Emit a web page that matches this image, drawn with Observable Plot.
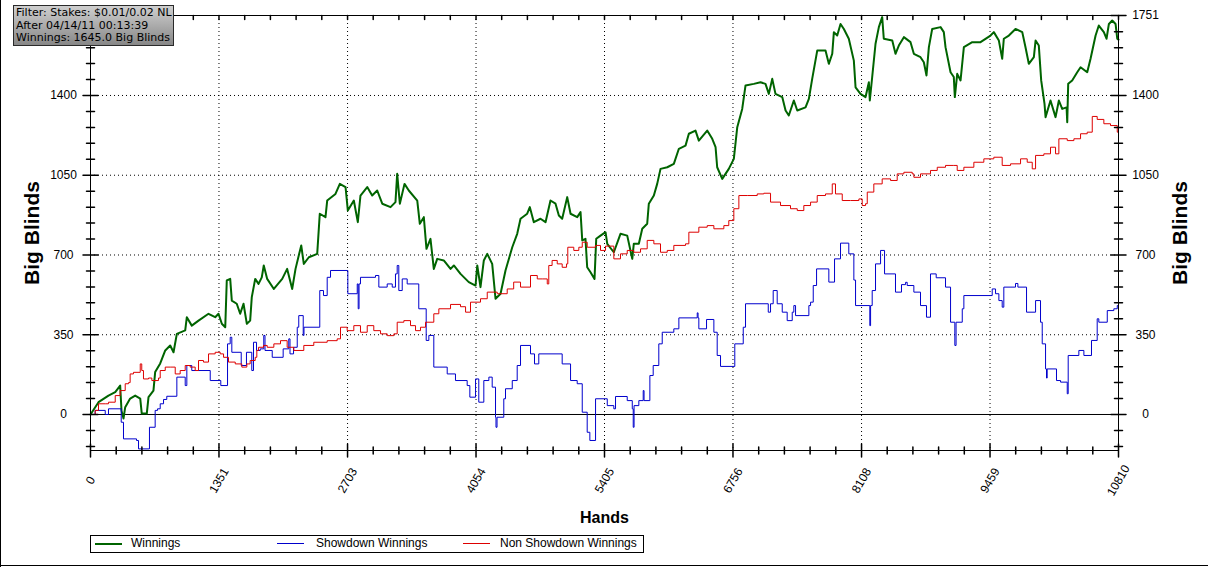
<!DOCTYPE html>
<html>
<head>
<meta charset="utf-8">
<script src="https://cdn.jsdelivr.net/npm/d3@7"></script>
<script src="https://cdn.jsdelivr.net/npm/@observablehq/plot@0.6"></script>
<style>
  html, body { margin: 0; padding: 0; background: #fff; }
  #chart { position: relative; width: 1208px; height: 567px; overflow: hidden; background: #fff; font-family: "Liberation Sans", Arial, sans-serif; }
  #chart svg { position: absolute; left: 0; top: 0; }
  .edge-left { position: absolute; left: 0; top: 0; width: 1px; height: 567px; background: #000; }
  .edge-bottom { position: absolute; left: 0; top: 565px; width: 1208px; height: 1px; background: #000; }
  #filter { position: absolute; left: 13px; top: 5px; width: 161px; height: 41px; box-sizing: border-box; border: 1px solid #2a2a2a;
            background: linear-gradient(#cfcfcf, #878787); font-family: "DejaVu Sans", sans-serif; font-size: 11px; line-height: 12.5px;
            padding: 1px 0 0 2px; color: #000; white-space: nowrap; }
  #legend { position: absolute; left: 90px; top: 535px; width: 554px; height: 18px; box-sizing: border-box; border: 1px solid #000; background: #fff; }
  .lg-line { position: absolute; }
  .lg-text { position: absolute; top: 536px; line-height: 15px; font-size: 12px; color: #000; white-space: nowrap; }
</style>
</head>
<body>
<div id="chart">
  <div class="edge-left"></div>
  <div class="edge-bottom"></div>
</div>
<script>
// ---------- data (hands, big blinds) ----------
const winnings = [[0,0],[84,54],[189,83],[260,98],[312,127],[326,17],[347,-18],[365,32],[417,70],[470,83],[523,70],[539,4],[592,4],[610,76],[662,105],[680,186],[733,224],[786,281],[838,303],[873,273],[908,354],[996,369],[1013,427],[1065,390],[1136,412],[1241,442],[1311,427],[1346,442],[1381,398],[1417,383],[1433,588],[1469,595],[1486,500],[1538,486],[1574,442],[1609,486],[1644,398],[1679,412],[1696,515],[1732,595],[1767,573],[1801,602],[1822,654],[1858,595],[1928,551],[2016,595],[2068,639],[2121,551],[2156,639],[2190,698],[2216,742],[2243,661],[2296,690],[2384,705],[2411,881],[2471,866],[2489,939],[2576,968],[2622,1012],[2682,998],[2706,895],[2769,939],[2811,844],[2839,961],[2910,998],[2962,961],[3015,983],[3068,925],[3155,910],[3207,932],[3225,1056],[3253,925],[3302,1012],[3347,983],[3436,939],[3463,837],[3505,866],[3533,727],[3575,771],[3610,639],[3646,683],[3715,676],[3786,639],[3821,654],[3891,617],[3978,581],[4049,566],[4067,654],[4101,559],[4136,676],[4172,705],[4224,661],[4259,508],[4312,530],[4364,632],[4435,734],[4487,793],[4522,859],[4592,881],[4620,910],[4662,844],[4732,859],[4785,844],[4837,939],[4890,925],[4925,873],[4960,859],[5013,954],[5048,881],[5118,866],[5153,888],[5171,764],[5205,771],[5223,646],[5258,624],[5300,595],[5318,771],[5363,785],[5416,800],[5434,749],[5503,712],[5573,793],[5644,785],[5697,683],[5713,749],[5766,749],[5802,815],[5854,837],[5871,925],[5924,961],[5959,1012],[5994,1078],[6065,1085],[6134,1100],[6187,1166],[6257,1180],[6292,1232],[6362,1246],[6397,1202],[6485,1246],[6538,1210],[6573,1173],[6590,1085],[6643,1034],[6712,1078],[6765,1122],[6801,1261],[6853,1341],[6888,1444],[6975,1451],[7046,1458],[7098,1451],[7133,1407],[7169,1473],[7203,1407],[7274,1393],[7309,1334],[7343,1312],[7396,1378],[7432,1334],[7519,1348],[7554,1385],[7589,1473],[7642,1597],[7729,1597],[7764,1539],[7800,1583],[7817,1678],[7852,1663],[7887,1714],[7922,1692],[7974,1649],[8027,1553],[8045,1436],[8097,1407],[8150,1393],[8185,1458],[8195,1378],[8220,1481],[8255,1627],[8290,1700],[8325,1744],[8342,1649],[8431,1641],[8465,1583],[8500,1619],[8553,1656],[8623,1634],[8658,1583],[8728,1568],[8763,1546],[8791,1488],[8816,1612],[8851,1692],[8939,1700],[8973,1678],[8991,1612],[9044,1502],[9078,1481],[9089,1393],[9114,1495],[9149,1466],[9184,1612],[9272,1634],[9359,1634],[9464,1663],[9499,1678],[9552,1641],[9587,1561],[9604,1649],[9657,1663],[9727,1692],[9798,1678],[9832,1612],[9867,1539],[9920,1568],[9938,1641],[9972,1619],[9997,1466],[10032,1363],[10043,1305],[10095,1378],[10148,1305],[10183,1378],[10218,1341],[10264,1348],[10271,1283],[10281,1451],[10323,1466],[10376,1502],[10411,1524],[10481,1502],[10516,1561],[10569,1663],[10603,1707],[10656,1678],[10684,1649],[10709,1714],[10744,1729],[10779,1714],[10797,1649],[10810,1645]];

const showdown = [[0,0],[49,18],[155,0],[189,25],[323,-34],[347,-107],[484,-114],[505,-151],[620,-56],[680,18],[705,25],[733,47],[768,66],[802,80],[908,164],[996,127],[1013,215],[1065,193],[1259,149],[1370,127],[1441,310],[1469,339],[1486,273],[1585,215],[1640,273],[1696,193],[1714,317],[1746,281],[1785,288],[1822,347],[1835,281],[1911,251],[2026,288],[2085,332],[2098,266],[2135,295],[2174,383],[2190,434],[2237,347],[2245,383],[2411,544],[2450,522],[2489,602],[2524,632],[2706,530],[2805,573],[2815,464],[2824,573],[2839,602],[2997,610],[3032,559],[3120,573],[3173,559],[3207,617],[3225,654],[3242,544],[3278,595],[3330,573],[3452,464],[3530,325],[3558,347],[3610,208],[3751,178],[3838,149],[3961,127],[3989,76],[4049,156],[4083,54],[4136,149],[4189,164],[4224,120],[4259,-12],[4264,-56],[4275,-12],[4346,69],[4364,113],[4435,149],[4487,215],[4522,303],[4627,266],[4669,222],[4714,266],[4960,222],[5048,149],[5118,135],[5171,10],[5223,-78],[5251,-114],[5311,69],[5434,39],[5503,25],[5521,79],[5644,61],[5697,25],[5707,-56],[5716,39],[5766,61],[5812,105],[5821,61],[5882,171],[5917,215],[5976,310],[6012,361],[6134,376],[6187,424],[6380,446],[6389,424],[6397,376],[6478,417],[6555,361],[6590,259],[6625,211],[6775,310],[6864,383],[6888,486],[7127,449],[7151,486],[7179,544],[7221,486],[7274,449],[7326,412],[7379,449],[7396,478],[7414,434],[7554,478],[7572,493],[7600,566],[7635,639],[7764,581],[7824,683],[7887,752],[7974,705],[8027,590],[8045,478],[8195,390],[8203,478],[8220,544],[8255,661],[8308,720],[8350,617],[8465,537],[8528,570],[8571,580],[8588,566],[8658,537],[8728,478],[8791,427],[8833,617],[8893,600],[8991,559],[9044,405],[9089,303],[9102,405],[9167,464],[9184,522],[9482,551],[9517,530],[9552,500],[9587,471],[9604,559],[9727,575],[9752,559],[9843,449],[9938,500],[9990,405],[10008,310],[10043,200],[10053,160],[10060,200],[10158,149],[10201,142],[10271,91],[10281,259],[10393,281],[10446,259],[10526,325],[10586,420],[10603,405],[10692,456],[10761,464],[10797,478],[10810,478]];

const nonShowdown = [[0,0],[49,18],[84,47],[155,47],[189,54],[260,83],[312,105],[365,135],[400,140],[417,178],[452,185],[523,222],[539,193],[557,156],[610,160],[645,149],[715,160],[733,193],[786,208],[838,208],[891,178],[943,193],[996,215],[1048,208],[1101,193],[1136,237],[1188,230],[1241,266],[1311,273],[1364,266],[1399,251],[1451,230],[1522,222],[1591,208],[1644,222],[1679,237],[1732,251],[1749,281],[1767,295],[1819,303],[1858,295],[1928,310],[1998,324],[2068,295],[2138,281],[2243,303],[2348,317],[2489,324],[2594,332],[2629,383],[2699,368],[2769,390],[2839,361],[2910,390],[2979,368],[3050,354],[3120,346],[3190,354],[3225,405],[3295,412],[3365,390],[3418,368],[3470,383],[3523,405],[3610,442],[3663,464],[3786,483],[3891,473],[3944,449],[3996,493],[4101,508],[4172,537],[4277,530],[4382,551],[4450,581],[4522,559],[4627,610],[4698,595],[4750,595],[4803,573],[4819,654],[4854,676],[4908,661],[4960,646],[5006,661],[5019,734],[5082,720],[5135,734],[5171,756],[5223,734],[5311,742],[5363,720],[5416,739],[5503,683],[5573,705],[5644,720],[5713,712],[5784,727],[5854,764],[5924,749],[5994,712],[6065,720],[6134,742],[6257,749],[6292,800],[6397,822],[6485,829],[6555,815],[6660,829],[6712,851],[6765,903],[6818,961],[6906,961],[7011,968],[7080,971],[7151,932],[7256,917],[7361,903],[7432,895],[7501,917],[7572,932],[7642,961],[7729,968],[7800,1012],[7834,968],[7905,939],[7992,939],[8080,946],[8115,917],[8150,925],[8168,976],[8237,1012],[8325,1034],[8413,1027],[8483,1056],[8553,1063],[8641,1056],[8658,1041],[8728,1056],[8833,1071],[8904,1085],[8991,1093],[9078,1093],[9114,1071],[9184,1085],[9289,1107],[9394,1122],[9499,1129],[9587,1093],[9675,1100],[9780,1122],[9850,1107],[9903,1078],[9938,1137],[10025,1144],[10095,1173],[10148,1144],[10183,1210],[10271,1202],[10341,1210],[10411,1232],[10481,1239],[10534,1308],[10586,1295],[10656,1276],[10726,1268],[10797,1239],[10810,1235]];

const xTickValues = [0, 1351, 2703, 4054, 5405, 6756, 8108, 9459, 10810];
const xTickLabels = ["0", "1351", "2703", "4054", "5405", "6756", "8108", "9459", "10810"];
const yTickValues = [0, 350, 700, 1050, 1400, 1751];
const yLeftLabels = ["0", "350", "700", "1050", "1400"];
const yRightLabels = ["0", "350", "700", "1050", "1400", "1751"];
const xDomain = [0, 10810];
const yDomain = [-158, 1751];
const xMinorStep = 270.25;
const yMinorStep = 70;

const seriesNames = ["Winnings", "Showdown Winnings", "Non Showdown Winnings"];
const seriesColors = ["#006400", "#0000cc", "#dd0000"];

// ---------- derived tables ----------
const toRows = (arr) => arr.map(([h, v]) => ({h, v}));
const xMinor = d3.range(1, 40).filter(k => k % 5 !== 0).map(k => k * xMinorStep);
const yMinor = d3.range(-2, 26).filter(k => k % 5 !== 0).map(k => k * yMinorStep);
const xAllTicks = xTickValues.concat(xMinor);
const tickShape = { draw(context, l) { context.moveTo(0, 0); context.lineTo(0, -l); } };
const X0 = () => xDomain[0], X1 = () => xDomain[1], Y0 = () => yDomain[0], Y1 = () => yDomain[1];

const plot = Plot.plot({
  width: 1208,
  height: 567,
  marginLeft: 90,
  marginRight: 90,
  marginTop: 15,
  marginBottom: 117,
  x: { domain: xDomain, axis: null },
  y: { domain: yDomain, axis: null },
  style: { fontFamily: "'Liberation Sans', Arial, sans-serif", fontSize: "12px", background: "transparent", overflow: "visible", color: "#000" },
  marks: [
    Plot.ruleX(xTickValues.slice(1, -1), { stroke: "#000", strokeDasharray: "1,3" }),
    Plot.ruleY(yTickValues.slice(1, -1), { stroke: "#000", strokeDasharray: "1,3" }),
    Plot.ruleY([0], { stroke: "#000" }),
    Plot.line(toRows(winnings), { x: "h", y: "v", stroke: seriesColors[0], strokeWidth: 2 }),
    Plot.line(toRows(showdown), { x: "h", y: "v", stroke: seriesColors[1], strokeWidth: 1, curve: "step-after" }),
    Plot.line(toRows(nonShowdown), { x: "h", y: "v", stroke: seriesColors[2], strokeWidth: 1, curve: "step-after" }),
    Plot.frame({ stroke: "#000" }),
    // left / right ticks
    Plot.vector(yTickValues, { x: X0, y: d => d, length: 15, rotate: 90, anchor: "middle", shape: tickShape, stroke: "#000" }),
    Plot.vector(yMinor, { x: X0, y: d => d, length: 8, rotate: 90, anchor: "middle", shape: tickShape, stroke: "#000" }),
    Plot.vector(yTickValues, { x: X1, y: d => d, length: 15, rotate: 90, anchor: "middle", shape: tickShape, stroke: "#000" }),
    Plot.vector(yMinor, { x: X1, y: d => d, length: 8, rotate: 90, anchor: "middle", shape: tickShape, stroke: "#000" }),
    // bottom / top ticks
    Plot.vector(xTickValues, { x: d => d, y: Y0, length: 13, rotate: 0, anchor: "middle", shape: tickShape, stroke: "#000" }),
    Plot.vector(xMinor, { x: d => d, y: Y0, length: 7, rotate: 0, anchor: "middle", shape: tickShape, stroke: "#000" }),
    Plot.vector(xAllTicks, { x: d => d, y: Y1, length: 4, rotate: 180, anchor: "start", shape: tickShape, stroke: "#000" }),
    // tick labels
    Plot.text(yLeftLabels, { x: X0, y: (d, i) => yTickValues[i], text: d => d, dx: -27, textAnchor: "middle", lineAnchor: "middle", fill: "#000" }),
    Plot.text(yRightLabels, { x: X1, y: (d, i) => yTickValues[i], text: d => d, dx: 27, textAnchor: "middle", lineAnchor: "middle", fill: "#000" }),
    Plot.text(xTickValues, { x: d => d, y: Y0, text: (d, i) => xTickLabels[i], dy: 30, rotate: -60, textAnchor: "middle", lineAnchor: "middle", fill: "#000" }),
    // axis titles
    Plot.text(["Big Blinds"], { frameAnchor: "left", dx: -58, rotate: -90, fontWeight: "bold", fontSize: 21, textAnchor: "middle", lineAnchor: "middle", fill: "#000" }),
    Plot.text(["Big Blinds"], { frameAnchor: "right", dx: 62, rotate: -90, fontWeight: "bold", fontSize: 21, textAnchor: "middle", lineAnchor: "middle", fill: "#000" }),
    Plot.text(["Hands"], { frameAnchor: "bottom", dy: 67, fontWeight: "bold", fontSize: 16, textAnchor: "middle", lineAnchor: "middle", fill: "#000" })
  ]
});

const chart = document.getElementById("chart");
chart.appendChild(plot);

// filter box
const filter = document.createElement("div");
filter.id = "filter";
filter.innerHTML = "Filter: Stakes: $0.01/0.02 NL<br>After 04/14/11 00:13:39<br>Winnings: 1645.0 Big Blinds";
chart.appendChild(filter);

// legend
const legend = document.createElement("div");
legend.id = "legend";
chart.appendChild(legend);
const legendLayout = [
  { lineLeft: 95, textLeft: 131, w: 2 },
  { lineLeft: 277, textLeft: 316, w: 1 },
  { lineLeft: 463, textLeft: 500, w: 1 }
];
seriesNames.forEach((name, i) => {
  const L = legendLayout[i];
  const ln = document.createElement("div");
  ln.className = "lg-line";
  ln.style.left = L.lineLeft + "px";
  ln.style.top = "543px";
  ln.style.width = "27px";
  ln.style.height = L.w + "px";
  ln.style.backgroundColor = seriesColors[i];
  chart.appendChild(ln);
  const tx = document.createElement("div");
  tx.className = "lg-text";
  tx.style.left = L.textLeft + "px";
  tx.textContent = name;
  chart.appendChild(tx);
});
</script>
</body>
</html>
